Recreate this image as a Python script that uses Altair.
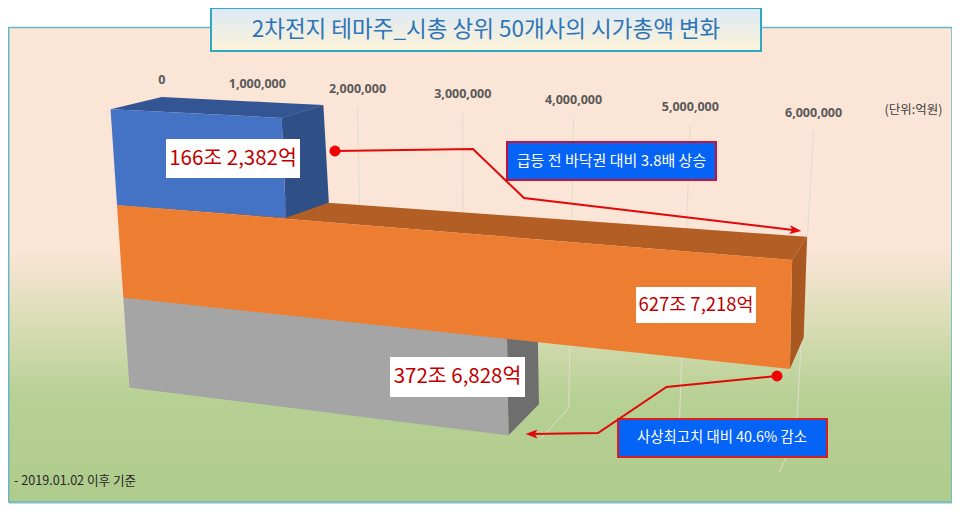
import numpy as np
import pandas as pd
import altair as alt

TITLE = "2차전지 테마주_시총 상위 50개사의 시가총액 변화"
UNIT = "(단위:억원)"
NOTE = "- 2019.01.02 이후 기준"
CALLOUT_UP = "급등 전 바닥권 대비 3.8배 상승"
CALLOUT_DOWN = "사상최고치 대비 40.6% 감소"

BAR_VALUES = [1662382, 6277218, 3726828]
TICK_VALUES = [0, 1000000, 2000000, 3000000, 4000000, 5000000, 6000000]
GRID_VALUES = [2000000, 3000000, 4000000, 5000000, 6000000]

FRONT_COLORS = ["#4472C4", "#ED7D31", "#A5A5A5"]
TOP_COLORS = ["#335593", "#B25E24", "#7C7C7C"]
SIDE_COLORS = ["#2F4F87", "#A85820", "#6E6E6E"]
FONT = "Noto Sans CJK KR"

# Camera of the 3D plot: (value in millions, band position, screen x, screen y)
FRONT_CAMERA = [(0, 0, 112, 109), (0, 1, 118, 205), (0, 2, 123, 298), (0, 3, 129, 387),
                (1.662, 0, 280, 118), (1.662, 1, 283.5, 218), (6.277, 1, 794, 260),
                (6.277, 2, 787, 368), (3.727, 2, 510, 338), (3.727, 3, 509, 436)]
BACK_CAMERA = [(0, 0, 163, 97), (1.662, 0, 323, 106), (1.662, 1, 326, 200), (6.277, 1, 808, 236),
               (6.277, 2, 802, 337), (3.727, 2, 540, 317), (3.727, 3, 539, 403)]
WALL_CAMERA = [(0, 0, 162, 98), (1, 0, 257, 102), (2, 0, 358, 107), (3, 0, 463, 112), (4, 0, 573, 119),
               (5, 0, 690, 125), (6, 0, 814, 131), (4, 3, 568, 408), (5, 3, 681, 422), (6, 3, 795, 437)]
FLOOR_CAMERA = [(4, 540, 440), (5, 658, 456), (6, 780, 472)]


def fit_axis(anchors, k):
    a, r = [], []
    for row in anchors:
        v, b, p = row[0], row[1], row[k]
        a.append([v, b, 1, -v * p, -b * p])
        r.append(p)
    return np.linalg.lstsq(np.array(a, float), np.array(r, float), rcond=None)[0]


def fit_plane(anchors):
    hx = fit_axis(anchors, 2)
    hy = fit_axis(anchors, 3)

    def project(value, band):
        v = value / 1e6
        return ((hx[0] * v + hx[1] * band + hx[2]) / (hx[3] * v + hx[4] * band + 1),
                (hy[0] * v + hy[1] * band + hy[2]) / (hy[3] * v + hy[4] * band + 1))
    return project


front = fit_plane(FRONT_CAMERA)
back = fit_plane(BACK_CAMERA)
wall = fit_plane(WALL_CAMERA)
floor_fx = np.polyfit([p[0] for p in FLOOR_CAMERA], [p[1] for p in FLOOR_CAMERA], 1)
floor_fy = np.polyfit([p[0] for p in FLOOR_CAMERA], [p[2] for p in FLOOR_CAMERA], 1)

X = alt.Scale(domain=[8, 952], zero=False, nice=False)
Y = alt.Scale(domain=[504, 8], zero=False, nice=False)


def xe(f="x"):
    return alt.X(f"{f}:Q", scale=X, axis=None, title=None)


def ye(f="y"):
    return alt.Y(f"{f}:Q", scale=Y, axis=None, title=None)


def polygon(corners, fill, **kw):
    xs = sorted({round(float(p[0]), 3) for p in corners})
    rows = []
    n = len(corners)
    for x in xs:
        ys = []
        for i in range(n):
            (x0, y0), (x1, y1) = corners[i], corners[(i + 1) % n]
            if min(x0, x1) - 0.002 <= x <= max(x0, x1) + 0.002:
                if abs(x1 - x0) < 1e-6:
                    ys += [y0, y1]
                else:
                    ys.append(y0 + (y1 - y0) * (x - x0) / (x1 - x0))
        rows.append({"x": x, "y": min(ys), "y2": max(ys)})
    return alt.Chart(pd.DataFrame(rows)).mark_area(orient="vertical", color=fill, **kw).encode(
        x=xe(), y=ye(), y2=alt.Y2("y2:Q"))


def box(x0, y0, x1, y1, fill, stroke=None, sw=0):
    d = pd.DataFrame([{"x": x0, "y": y0, "x2": x1, "y2": y1}])
    kw = {"stroke": stroke, "strokeWidth": sw} if stroke else {}
    return alt.Chart(d).mark_rect(color=fill, **kw).encode(
        x=xe(), y=ye(), x2=alt.X2("x2:Q"), y2=alt.Y2("y2:Q"))


def text(s, x, y, size, color, align="center", weight="normal", font=FONT):
    d = pd.DataFrame([{"x": x, "y": y, "t": s}])
    return alt.Chart(d).mark_text(align=align, baseline="middle", fontSize=size, color=color,
                                  fontWeight=weight, font=font).encode(x=xe(), y=ye(), text="t:N")


def polyline(points, color, width):
    d = pd.DataFrame([{"x": p[0], "y": p[1], "i": i} for i, p in enumerate(points)])
    return alt.Chart(d).mark_line(color=color, strokeWidth=width).encode(
        x=xe(), y=ye(), order=alt.Order("i:Q"))


def won(v):
    return f"{v // 10000}조 {v % 10000:,}억"


layers = []
panel_fill = alt.Gradient(gradient="linear", x1=0, y1=0, x2=0, y2=1, stops=[
    alt.GradientStop(offset=0, color="#FBE5D6"), alt.GradientStop(offset=0.47, color="#FBE5D6"),
    alt.GradientStop(offset=0.62, color="#DADDB6"), alt.GradientStop(offset=0.78, color="#B7D094"),
    alt.GradientStop(offset=1, color="#AFCC8C")])
title_fill = alt.Gradient(gradient="linear", x1=0, y1=0, x2=0, y2=1, stops=[
    alt.GradientStop(offset=0, color="#DCE9F6"), alt.GradientStop(offset=1, color="#FDF3D8")])

layers.append(box(9, 30, 954, 504, "#D5D5D5"))
layers.append(box(8.7, 27.5, 952, 502, panel_fill, "#62B9C6", 1.5))

# gridlines on the back wall and floor
for v in GRID_VALUES:
    floor = (np.polyval(floor_fx, v / 1e6), np.polyval(floor_fy, v / 1e6))
    layers.append(polyline([wall(v, 0), wall(v, 3), floor], "#E0DCD0", 1))

# bars, painted back to front
for i in [2, 1, 0]:
    v = BAR_VALUES[i]
    top, bottom = i, i + 1
    layers.append(polygon([front(0, top), back(0, top), back(v, top), front(v, top)], TOP_COLORS[i]))
    layers.append(polygon([front(v, top), back(v, top), back(v, bottom), front(v, bottom)], SIDE_COLORS[i]))
    layers.append(polygon([front(0, top), front(v, top), front(v, bottom), front(0, bottom)], FRONT_COLORS[i]))

# tick labels
for v in TICK_VALUES:
    px, py = wall(v, 0)
    layers.append(text(f"{v:,}", px, py - 18, 12.5, "#595959", weight="bold", font="Noto Sans"))
layers.append(text(UNIT, 913.5, 110, 12.5, "#404040"))

# value labels
LABEL_BOXES = [(166, 139, 300, 178, 20.5), (636, 287, 756, 323, 18.5), (390, 357, 525, 397, 20.5)]
for v, (x0, y0, x1, y1, size) in zip(BAR_VALUES, LABEL_BOXES):
    layers.append(box(x0, y0, x1, y1, "#FFFFFF"))
    layers.append(text(won(v), (x0 + x1) / 2, (y0 + y1) / 2, size, "#C00000"))

# callouts
RED = "#E00808"
layers.append(box(507, 142, 716, 180, "#0563F5", "#C0143C", 2))
layers.append(text(CALLOUT_UP, 611.5, 161, 15, "#FFFFFF"))
layers.append(box(618, 419, 827, 457, "#0563F5", "#D81E1E", 2))
layers.append(text(CALLOUT_DOWN, 722, 438, 14.4, "#FFFFFF"))

layers.append(polyline([(335, 151), (473, 149), (524, 198), (795, 230.2)], RED, 2))
layers.append(polyline([(777, 376), (666.5, 387), (598, 433), (532, 434)], RED, 2))
dots = pd.DataFrame([{"x": 335, "y": 151}, {"x": 777, "y": 376}])
layers.append(alt.Chart(dots).mark_point(filled=True, opacity=1, size=120, color="#F00000").encode(x=xe(), y=ye()))
ARROW = "M1,0 L-1,-0.75 L-0.55,0 L-1,0.75 Z"
heads = [(795.5, 230.3, 7), (531.5, 434, 180)]
for hx, hy, ang in heads:
    layers.append(alt.Chart(pd.DataFrame([{"x": hx, "y": hy}])).mark_point(
        shape=ARROW, filled=True, opacity=1, size=140, angle=ang, color=RED).encode(x=xe(), y=ye()))

layers.append(text(NOTE, 14, 481, 12.6, "#262626", align="left"))

# title
layers.append(box(211, 8, 761, 51, title_fill, "#2FA8C4", 2))
layers.append(text(TITLE, 486, 30, 22.5, "#2E75B6"))

chart = alt.layer(*layers).properties(
    width=944, height=496, padding=0, background="#FFFFFF",
    autosize=alt.AutoSizeParams(type="none")
).configure_view(stroke=None)

chart.save("out.html", embed_options={"renderer": "svg", "actions": False})
